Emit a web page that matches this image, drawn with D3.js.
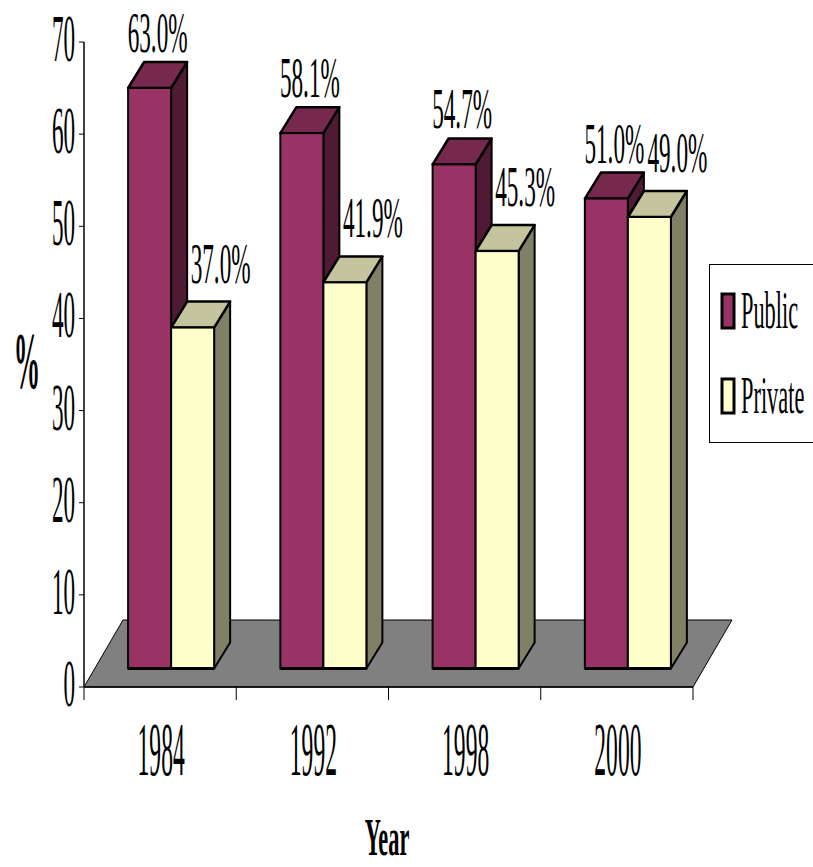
<!DOCTYPE html>
<html>
<head>
<meta charset="utf-8">
<script src="https://cdn.jsdelivr.net/npm/d3@7"></script>
<style>
  body { margin: 0; background: #fff; }
  text { font-family: "Liberation Serif", "Times New Roman", serif; fill: #000; }
</style>
</head>
<body>
<div id="chart_div"></div>
<script>
// data
var years = ["1984", "1992", "1998", "2000"];
var series = ["Public", "Private"];
var publicValues = [63.0, 58.1, 54.7, 51.0];
var privateValues = [37.0, 41.9, 45.3, 49.0];
var yTicks = [0, 10, 20, 30, 40, 50, 60, 70];

var colors = {
    Public: { front: "#993366", top: "#76284f", side: "#4e1a34" },
    Private: { front: "#ffffcc", top: "#c4c49f", side: "#808066" }
};

var width = 813, height = 867;
var svg = d3.select("#chart_div").append("svg")
    .attr("width", width)
    .attr("height", height);

var x = d3.scaleBand().domain(years).range([84, 693]);
var x1 = d3.scaleBand().domain(series).range([0, x.bandwidth()]).paddingOuter(0.77);
var y = d3.scaleLinear().domain([0, 70]).range([687, 42]);

// depth of floor and bars
var floorDx = 39, floorDy = -67;
var frontDx = 11, frontDy = -18.5;   // bars front plane offset from axis plane
var barDx = 16, barDy = -26;         // bar depth

function squashText(g, str, px, py, size, sx, anchor, weight) {
    return g.append("text")
        .attr("transform", "translate(" + px + "," + py + ") scale(" + sx + ",1)")
        .attr("text-anchor", anchor || "middle")
        .attr("font-size", size)
        .attr("font-weight", weight || "normal")
        .text(str);
}

// floor
var x0 = x.range()[0], xe = x.range()[1], yb = y(0);
svg.append("path")
    .attr("d", "M" + x0 + "," + yb + "L" + xe + "," + yb + "L" + (xe + floorDx) + "," + (yb + floorDy) +
        "L" + (x0 + floorDx) + "," + (yb + floorDy) + "Z")
    .attr("fill", "#808080")
    .attr("stroke", "#000")
    .attr("stroke-width", 1);

// y axis
svg.append("line")
    .attr("x1", x0).attr("x2", x0)
    .attr("y1", y(70)).attr("y2", y(0))
    .attr("stroke", "#000").attr("stroke-width", 1.5);
var yAxis = svg.append("g");
yTicks.forEach(function(t) {
    yAxis.append("line")
        .attr("x1", x0 - 5).attr("x2", x0)
        .attr("y1", y(t)).attr("y2", y(t))
        .attr("stroke", "#000").attr("stroke-width", 1);
    squashText(yAxis, t, 75, y(t) + 19, 68, 0.34, "end");
});

// x axis
svg.append("line")
    .attr("x1", x0).attr("x2", xe)
    .attr("y1", yb).attr("y2", yb)
    .attr("stroke", "#000").attr("stroke-width", 1.5);
var xTickPos = years.map(function(d) { return x(d); }).concat([xe]);
xTickPos.forEach(function(p) {
    svg.append("line")
        .attr("x1", p).attr("x2", p)
        .attr("y1", yb).attr("y2", yb + 13)
        .attr("stroke", "#000").attr("stroke-width", 1);
});
years.forEach(function(d) {
    squashText(svg, d, x(d) + x.bandwidth() / 2 + 1, 775, 76, 0.31);
});

// bars
var barBase = y(0) + frontDy;
function drawBar(g, left, w, v, c) {
    var xl = left, xr = left + w;
    var yt = y(v) + frontDy;
    g.append("path")
        .attr("d", "M" + xr + "," + barBase + "L" + (xr + barDx) + "," + (barBase + barDy) +
            "L" + (xr + barDx) + "," + (yt + barDy) + "L" + xr + "," + yt + "Z")
        .attr("fill", c.side).attr("stroke", "#000").attr("stroke-width", 2)
        .attr("stroke-linejoin", "round");
    g.append("path")
        .attr("d", "M" + xl + "," + yt + "L" + (xl + barDx) + "," + (yt + barDy) +
            "L" + (xr + barDx) + "," + (yt + barDy) + "L" + xr + "," + yt + "Z")
        .attr("fill", c.top).attr("stroke", "#000").attr("stroke-width", 2.5)
        .attr("stroke-linejoin", "round");
    g.append("rect")
        .attr("x", xl).attr("y", yt)
        .attr("width", w).attr("height", barBase - yt)
        .attr("fill", c.front).attr("stroke", "#000").attr("stroke-width", 2);
    g.append("line")
        .attr("x1", xl).attr("x2", xr)
        .attr("y1", barBase).attr("y2", barBase)
        .attr("stroke", "#000").attr("stroke-width", 3);
}

var bars = svg.append("g");
var labels = svg.append("g");
years.forEach(function(d, i) {
    var vals = { Public: publicValues[i], Private: privateValues[i] };
    series.forEach(function(s) {
        var left = x(d) + x1(s) + frontDx;
        drawBar(bars, left, x1.bandwidth(), vals[s], colors[s]);
        var cx = left + x1.bandwidth() / 2 + barDx / 2 + (s == "Private" ? 20 : 0);
        var by = y(vals[s]) + frontDy + barDy - (s == "Private" ? 19 : 10);
        squashText(labels, vals[s].toFixed(1) + "%", cx, by, 58, 0.4);
    });
});

// legend
var legend = svg.append("g");
legend.append("rect")
    .attr("x", 709.5).attr("y", 264.5)
    .attr("width", 130).attr("height", 178)
    .attr("fill", "#fff").attr("stroke", "#000").attr("stroke-width", 1);
series.forEach(function(s, i) {
    var ly = 294 + i * 85;
    legend.append("rect")
        .attr("x", 722).attr("y", ly)
        .attr("width", 12).attr("height", 34)
        .attr("fill", colors[s].front)
        .attr("stroke", "#000").attr("stroke-width", 3);
    squashText(legend, s, 741, ly + 34, 52, 0.43, "start");
});

// axis titles
squashText(svg, "%", 27, 388, 80, 0.33, "middle", "bold");
squashText(svg, "Year", 387, 855, 52, 0.43, "middle", "bold");
</script>
</body>
</html>
